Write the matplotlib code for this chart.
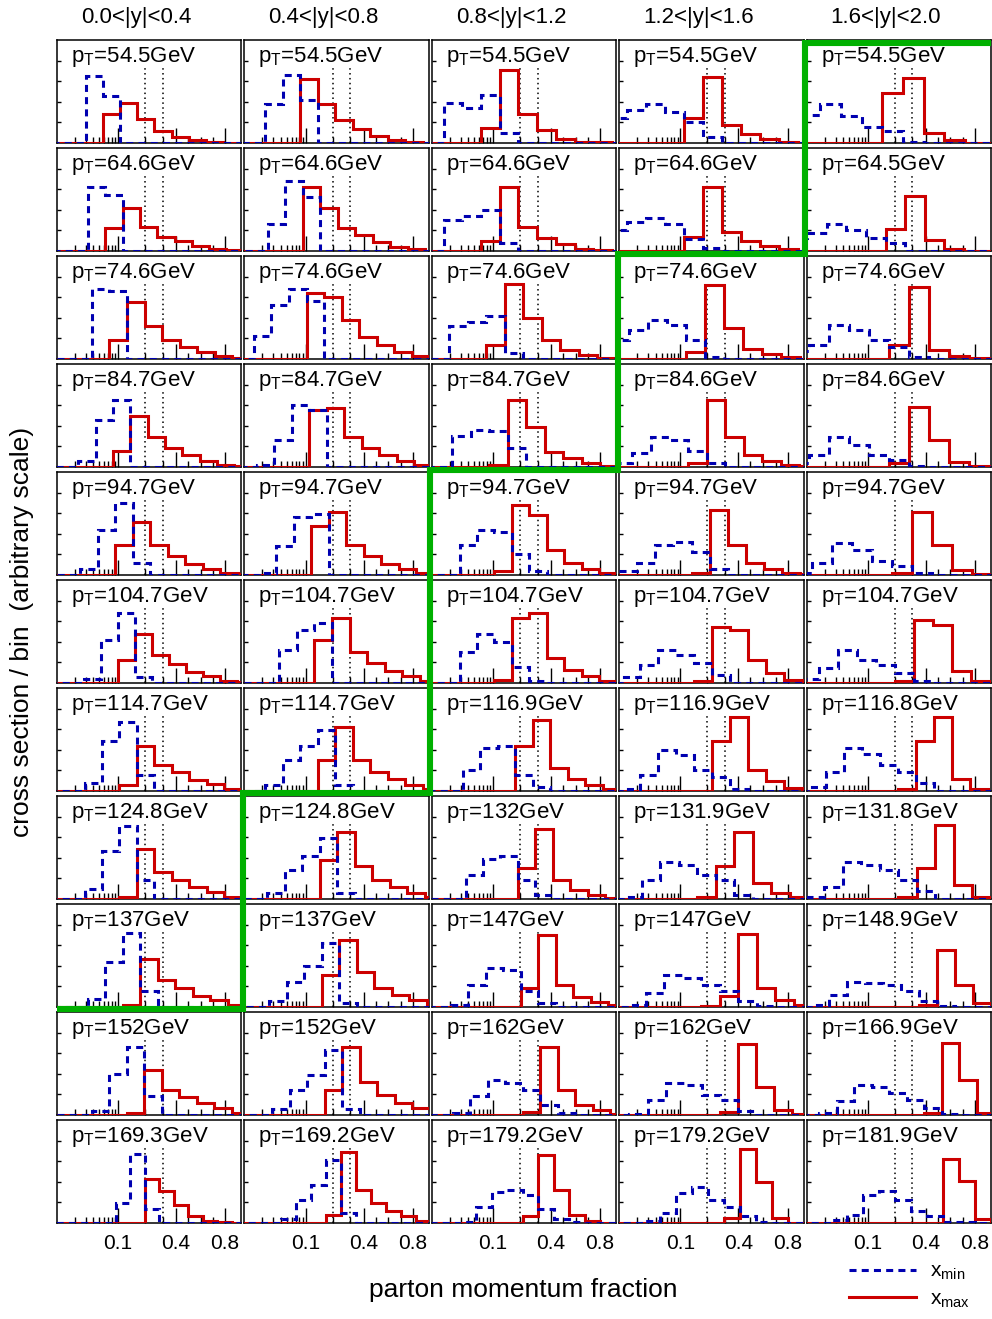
import numpy as np
import matplotlib
matplotlib.use('Agg')
import matplotlib.pyplot as plt
from matplotlib.lines import Line2D

plt.rcParams['font.family'] = ['Liberation Sans', 'DejaVu Sans']
plt.rcParams['mathtext.fontset'] = 'custom'
plt.rcParams['mathtext.rm'] = 'Liberation Sans'
plt.rcParams['mathtext.it'] = 'Liberation Sans:italic'

# rapidity bins (columns)
YBINS = ['0.0<|y|<0.4', '0.4<|y|<0.8', '0.8<|y|<1.2', '1.2<|y|<1.6', '1.6<|y|<2.0']

# mean pT of each panel [row][col]
PT = [
    ['54.5', '54.5', '54.5', '54.5', '54.5'],
    ['64.6', '64.6', '64.6', '64.6', '64.5'],
    ['74.6', '74.6', '74.6', '74.6', '74.6'],
    ['84.7', '84.7', '84.7', '84.6', '84.6'],
    ['94.7', '94.7', '94.7', '94.7', '94.7'],
    ['104.7', '104.7', '104.7', '104.7', '104.7'],
    ['114.7', '114.7', '116.9', '116.9', '116.8'],
    ['124.8', '124.8', '132', '131.9', '131.8'],
    ['137', '137', '147', '147', '148.9'],
    ['152', '152', '162', '162', '166.9'],
    ['169.3', '169.2', '179.2', '179.2', '181.9'],
]

# first and last bin edge (momentum fraction) of each panel's histogram
LO = [
    [0.0086, 0.00606, 0.0080, 0.00665, 0.00797],
    [0.00908, 0.00665, 0.0080, 0.00665, 0.00507],
    [0.01037, 0.00771, 0.0100, 0.00716, 0.00532],
    [0.00636, 0.00862, 0.00562, 0.00845, 0.00532],
    [0.00665, 0.00928, 0.00786, 0.01037, 0.00595],
    [0.0080, 0.01037, 0.00786, 0.00573, 0.0080],
    [0.00786, 0.00606, 0.00879, 0.00573, 0.00552],
    [0.00786, 0.00653, 0.00982, 0.00595, 0.0100],
    [0.00879, 0.00703, 0.00573, 0.0069, 0.00617],
    [0.01019, 0.00786, 0.00606, 0.00771, 0.00862],
    [0.00629, 0.00771, 0.00946, 0.00771, 0.00771],
]
HI = [
    [1.063, 1.027, 1.052, 1.039, 1.054],
    [0.955, 1.047, 1.052, 1.039, 1.033],
    [1.004, 1.079, 1.083, 1.055, 1.079],
    [1.019, 0.961, 0.957, 1.047, 1.079],
    [1.047, 0.978, 0.940, 1.047, 1.104],
    [1.039, 1.004, 0.940, 1.063, 1.079],
    [0.940, 1.027, 0.966, 1.063, 1.055],
    [0.940, 1.043, 0.991, 0.970, 1.083],
    [0.966, 1.059, 1.015, 1.004, 1.079],
    [1.0, 1.083, 1.027, 0.983, 0.961],
    [0.978, 0.957, 1.055, 1.063, 1.063],
]

# x_max histograms (red)
RED = [
    [[0,0,0,1.4,1.96,1.16,0.6,0.3,0.15,0.05,0.02,0],
     [0,0,0,0,3.1,1.9,1.1,0.7,0.35,0.15,0.05,0],
     [0,0,0,0.72,3.53,1.4,0.64,0.2,0.07,0.03,0],
     [0,0,0,0,1.2,3.2,0.85,0.45,0.2,0.05,0],
     [0,0,0,0,2.42,3.14,0.48,0.15,0,0]],
    [[0,0,0,1.1,2.1,1.15,0.7,0.5,0.25,0.1,0.03],
     [0,0,0,0,3.1,2.1,1.1,0.77,0.45,0.2,0.08,0],
     [0,0,0,0.5,3.1,1.15,0.65,0.35,0.12,0.05,0],
     [0,0,0,0,0.7,3.1,0.9,0.5,0.25,0.08,0],
     [0,0,0,0,0,1.05,2.66,0.53,0.1,0,0]],
    [[0,0,0,0.9,2.75,1.6,0.9,0.6,0.35,0.15,0.05],
     [0,0,0,0,3.2,3.0,1.9,1.05,0.7,0.35,0.15,0],
     [0,0,0,0.7,3.65,2.0,0.9,0.45,0.2,0.05,0],
     [0,0,0,0,0.35,3.6,1.5,0.5,0.25,0.08,0],
     [0,0,0,0,0,0.7,3.5,0.45,0.15,0.03,0]],
    [[0,0,0,0,0.8,2.5,1.45,0.9,0.6,0.3,0.12,0.05],
     [0,0,0,0,2.75,2.85,1.45,0.9,0.6,0.3,0.12],
     [0,0,0,0,0.1,3.25,1.95,0.75,0.45,0.2,0.05],
     [0,0,0,0,0.2,3.25,1.45,0.6,0.3,0.1,0.03],
     [0,0,0,0,0,0.2,2.9,1.3,0.25,0.05,0]],
    [[0,0,0,0,1.45,2.55,1.45,0.9,0.55,0.3,0.1,0.03],
     [0,0,0,0,2.4,3.05,1.45,0.9,0.55,0.3,0.1],
     [0,0,0,0,0.2,3.4,2.9,1.2,0.6,0.3,0.08],
     [0,0,0,0,0.1,3.15,1.45,0.6,0.3,0.1,0.03],
     [0,0,0,0,0,0.1,3.05,1.45,0.25,0.05,0]],
    [[0,0,0,0,1.1,2.4,1.35,0.9,0.55,0.35,0.12,0.03],
     [0,0,0,0,2.1,3.15,1.5,0.95,0.6,0.35,0.12],
     [0,0,0,0,0.15,3.15,3.4,1.2,0.65,0.35,0.1],
     [0,0,0,0,0,0.1,2.7,2.55,1.1,0.5,0.15,0.03],
     [0,0,0,0,0,0.1,3.05,2.8,0.6,0.1,0]],
    [[0,0,0,0,0.3,2.2,1.25,0.9,0.55,0.35,0.12],
     [0,0,0,0,0,1.5,3.1,1.5,0.9,0.6,0.3,0.1],
     [0,0,0,0,0,2.2,3.45,1.1,0.6,0.3,0.08],
     [0,0,0,0,0,0,2.45,3.6,1.0,0.5,0.15,0.03],
     [0,0,0,0,0,0,0.1,2.45,3.6,0.6,0.1,0]],
    [[0,0,0,0,0.1,2.45,1.3,0.9,0.6,0.35,0.12],
     [0,0,0,0,0,1.9,3.25,1.6,0.9,0.6,0.3,0.1],
     [0,0,0,0,0,1.5,3.4,0.9,0.45,0.2,0.05],
     [0,0,0,0,0,0.1,1.6,3.25,0.8,0.3,0.08],
     [0,0,0,0,0,0.1,1.5,3.6,0.7,0.1,0]],
    [[0,0,0,0,0.1,2.35,1.3,0.9,0.55,0.35,0.12],
     [0,0,0,0,0,1.55,3.25,1.7,0.9,0.6,0.35,0.1],
     [0,0,0,0,0,0,0.9,3.5,1.05,0.5,0.25,0.08],
     [0,0,0,0,0,0.05,0.55,3.55,0.9,0.35,0.1],
     [0,0,0,0,0,0,0,0.1,2.75,1.05,0.2,0]],
    [[0,0,0,0,0.1,2.2,1.2,0.85,0.6,0.35,0.12],
     [0,0,0,0,0,1.2,3.3,1.6,0.95,0.6,0.35,0.1],
     [0,0,0,0,0,0,0.15,3.3,1.2,0.5,0.25,0.05],
     [0,0,0,0,0,0,0.15,3.45,1.35,0.25,0.05],
     [0,0,0,0,0,0,0,0.1,3.5,1.7,0.1]],
    [[0,0,0,0,0,0,0,2.14,1.56,0.85,0.32,0.11,0.03,0],
     [0,0,0,0,0,0,0.4,3.45,1.6,0.95,0.6,0.35,0.12],
     [0,0,0,0,0,0,0.35,3.3,1.6,0.4,0.1,0,0],
     [0,0,0,0,0,0,0,0.24,3.58,2.0,0.24,0.02,0],
     [0,0,0,0,0,0,0,0,0,3.1,2.05,0.21,0]],
]

# x_min histograms (blue)
BLUE = [
    [[0,0,3.25,2.3,0,0,0,0,0,0,0,0],
     [0,0,1.9,3.3,2.1,0,0,0,0,0,0,0],
     [0,1.92,1.72,2.32,0.5,0,0,0,0,0,0],
     [1.2,1.6,1.9,1.5,1.0,0.3,0,0,0,0,0],
     [1.37,1.9,1.32,0.76,0.6,0.03,0,0,0,0]],
    [[0,0,3.1,2.7,0,0,0,0,0,0,0],
     [0,0,1.3,3.4,2.6,0,0,0,0,0,0,0],
     [0,1.5,1.7,2.0,0.4,0,0,0,0,0,0],
     [1.0,1.4,1.6,1.3,0.6,0.15,0,0,0,0,0],
     [0.61,0.85,1.29,1.0,0.61,0.37,0,0,0,0,0]],
    [[0,0,3.4,3.3,0,0,0,0,0,0,0],
     [0,1.1,2.6,3.4,2.8,0,0,0,0,0,0,0],
     [0,1.6,1.8,2.1,0.3,0,0,0,0,0,0],
     [0.9,1.4,1.9,1.65,0.9,0.1,0,0,0,0,0],
     [0.4,0.7,1.65,1.4,0.9,0.6,0.1,0,0,0,0]],
    [[0,0,0.3,2.3,3.25,0,0,0,0,0,0,0],
     [0,0.1,1.3,3.0,2.75,0,0,0,0,0,0],
     [0,0,1.5,1.8,1.75,0.9,0,0,0,0,0],
     [0.2,0.7,1.45,1.3,0.8,0.2,0,0,0,0,0],
     [0.2,0.6,1.45,1.05,0.6,0.35,0.05,0,0,0,0]],
    [[0,0,0.3,2.2,3.5,0.6,0,0,0,0,0,0],
     [0,0.1,1.4,2.8,2.95,0,0,0,0,0,0],
     [0,0,1.45,2.2,2.1,1.0,0.2,0,0,0,0],
     [0.2,0.6,1.45,1.6,1.1,0.3,0,0,0,0,0],
     [0.1,0.6,1.55,1.2,0.7,0.45,0.1,0,0,0,0]],
    [[0,0,0.2,2.1,3.4,0.3,0,0,0,0,0,0],
     [0,0,1.6,2.55,2.9,0,0,0,0,0,0],
     [0,0,1.5,2.4,2.0,0.8,0.1,0,0,0,0],
     [0,0.3,0.85,1.6,1.35,0.95,0.4,0,0,0,0,0],
     [0.2,0.75,1.6,1.1,0.85,0.5,0.1,0,0,0,0]],
    [[0,0,0.4,2.45,3.35,0.8,0,0,0,0,0],
     [0,0,0.3,1.5,2.2,2.95,0.3,0,0,0,0,0],
     [0,0,1.0,2.1,2.2,0.8,0.2,0,0,0,0],
     [0,0.1,0.8,2.0,1.75,1.0,0.7,0.1,0,0,0,0],
     [0,0.2,0.9,2.1,1.8,1.25,0.9,0.4,0,0,0,0]],
    [[0,0,0.5,2.35,3.55,0.9,0,0,0,0,0],
     [0,0,0.3,1.4,2.1,2.95,0.3,0,0,0,0,0],
     [0,0,1.15,1.95,2.1,0.9,0.2,0,0,0,0],
     [0,0.1,0.9,1.8,1.65,1.15,0.9,0.2,0,0,0],
     [0.1,0.6,1.8,1.65,1.4,0.9,0.4,0,0,0,0]],
    [[0,0,0.4,2.2,3.6,0.8,0,0,0,0,0],
     [0,0,0.3,1.2,2.0,3.1,0.2,0,0,0,0,0],
     [0,0,0.1,1.05,1.9,1.8,0.8,0.2,0,0,0,0],
     [0,0.1,0.7,1.55,1.4,1.05,0.8,0.3,0.05,0,0],
     [0,0.1,0.6,1.2,1.15,1.05,0.8,0.3,0.05,0,0,0]],
    [[0,0,0.2,2.0,3.3,0.9,0,0,0,0,0],
     [0,0,0.3,1.2,1.95,3.15,0.3,0,0,0,0,0],
     [0,0,0.1,0.9,1.7,1.55,1.2,0.5,0.1,0,0,0],
     [0,0.05,0.75,1.55,1.45,0.95,0.75,0.2,0,0,0],
     [0,0.1,0.7,1.45,1.35,1.05,0.75,0.35,0.05,0,0]],
    [[0,0,0,0,0,0.97,3.37,0.69,0,0,0,0,0,0],
     [0,0,0,0.2,1.1,1.85,3.05,0.5,0,0,0,0,0],
     [0,0,0.05,0.8,1.5,1.6,1.35,0.7,0.2,0.05,0,0,0],
     [0,0,0.1,0.48,1.45,1.75,1.13,0.76,0.32,0.05,0,0,0],
     [0,0,0.15,0.4,1.37,1.53,1.13,0.56,0.32,0.05,0.05,0,0]],
]

# staircase: last row (from top) above the green line in each column
GREEN_ROW = [8, 6, 3, 1, -1]

# x axis: logarithmic below 0.1, compressed above (as in the original plots)
AX_X = [0.001, 0.01, 0.1, 0.2, 0.3, 0.4, 0.5, 0.6, 0.7, 0.8, 0.9, 1.0, 1.2]
AX_U = [-63, -1, 61, 88, 105.5, 119, 131, 143.5, 156, 168, 180, 192, 216]
LX = np.log10(AX_X)


def fwd(x):
    x = np.clip(np.asarray(x, dtype=float), 1e-4, None)
    return np.interp(np.log10(x), LX, AX_U)


def inv(u):
    return 10 ** np.interp(np.asarray(u, dtype=float), AX_U, LX)


RED_C = '#cc0000'
BLUE_C = '#0000b0'
GREEN_C = '#00b000'
DASH = (0, (2.3, 1.7))

fig = plt.figure(figsize=(9.92, 13.19), dpi=100)
W, H = 992, 1319
gs = fig.add_gridspec(11, 5, left=57/W, right=991/W, top=1-40/H, bottom=1-1223/H,
                      wspace=0.019, hspace=0.0485)

axes = [[None]*5 for _ in range(11)]
for r in range(11):
    for c in range(5):
        ax = fig.add_subplot(gs[r, c])
        axes[r][c] = ax
        ax.set_xscale('function', functions=(fwd, inv))
        ax.set_xlim(inv(0), inv(184))
        ax.set_ylim(0, 5)

        n = len(RED[r][c])
        edges = inv(np.linspace(fwd(LO[r][c]), fwd(HI[r][c]), n + 1))
        ax.stairs(RED[r][c], edges, baseline=None, color=RED_C, lw=2.2, zorder=3)
        ax.stairs(BLUE[r][c], edges, baseline=None, color=BLUE_C, lw=2.2,
                  linestyle=DASH, zorder=4)
        ax.vlines([0.2, 0.3], 0, 3.7, colors='k', linestyles=(0, (1, 2.2)), lw=1.1, zorder=2)

        ax.text(14/184, 1-21.7/103, r'p$_{\mathrm{T}}$=%sGeV' % PT[r][c],
                transform=ax.transAxes, fontsize=16, ha='left', va='baseline', zorder=5)

        ax.set_xticks([0.1, 0.4, 0.8])
        ax.set_xticks([0.02, 0.03, 0.04, 0.05, 0.06, 0.07, 0.08, 0.09,
                       0.2, 0.3, 0.5, 0.6, 0.7], minor=True)
        ax.set_yticks([1, 2, 3, 4])
        ax.set_yticks([], minor=True)
        ax.tick_params(axis='x', which='major', direction='in', length=10.5, width=1,
                       top=False, labelsize=15, pad=8)
        ax.tick_params(axis='x', which='minor', direction='in', length=4.3, width=1, top=False)
        ax.tick_params(axis='y', which='major', direction='in', length=3, width=1,
                       right=False, labelleft=False)
        if r < 10:
            ax.tick_params(axis='x', labelbottom=False)
        else:
            ax.set_xticklabels(['0.1', '0.4', '0.8'])
        for s in ax.spines.values():
            s.set_linewidth(1.1)
        if r == 0:
            ax.text(0.5 - 13/184, 1 + 16.7/103, YBINS[c], transform=ax.transAxes,
                    fontsize=16, ha='center', va='baseline')

fig.text(523/W, 1-1290/H, 'parton momentum fraction', fontsize=19, ha='center', va='center')
fig.text(22/W, 1-632/H, 'cross section / bin  (arbitrary scale)', fontsize=19,
         ha='center', va='center', rotation=90)

# legend
h_min = Line2D([], [], color=BLUE_C, lw=2.2, linestyle=DASH)
h_max = Line2D([], [], color=RED_C, lw=2.2)
fig.legend([h_min, h_max], [r'x$_{\mathrm{min}}$', r'x$_{\mathrm{max}}$'],
           loc='upper left', bbox_to_anchor=(849/W, 1-1262/H), frameon=False,
           fontsize=15, handlelength=3.2, handletextpad=0.7, labelspacing=0.35,
           borderpad=0, borderaxespad=0)

# green staircase between the panels
def pos(r, c):
    return axes[r][c].get_position()

ys = []
for c, b in enumerate(GREEN_ROW):
    if b < 0:
        ys.append(pos(0, c).y1 - 2.5/H)
    else:
        ys.append(0.5 * (pos(b, c).y0 + pos(b + 1, c).y1))
xg = [0.5 * (pos(0, c).x1 + pos(0, c + 1).x0) for c in range(4)]
px = [pos(0, 0).x0]
py = [ys[0]]
for c in range(4):
    px += [xg[c], xg[c]]
    py += [ys[c], ys[c + 1]]
px.append(pos(0, 4).x1)
py.append(ys[4])
fig.add_artist(Line2D(px, py, transform=fig.transFigure, color=GREEN_C, lw=4.4,
                      solid_joinstyle='miter', solid_capstyle='butt', zorder=20))

fig.savefig('out.png', dpi=100)
